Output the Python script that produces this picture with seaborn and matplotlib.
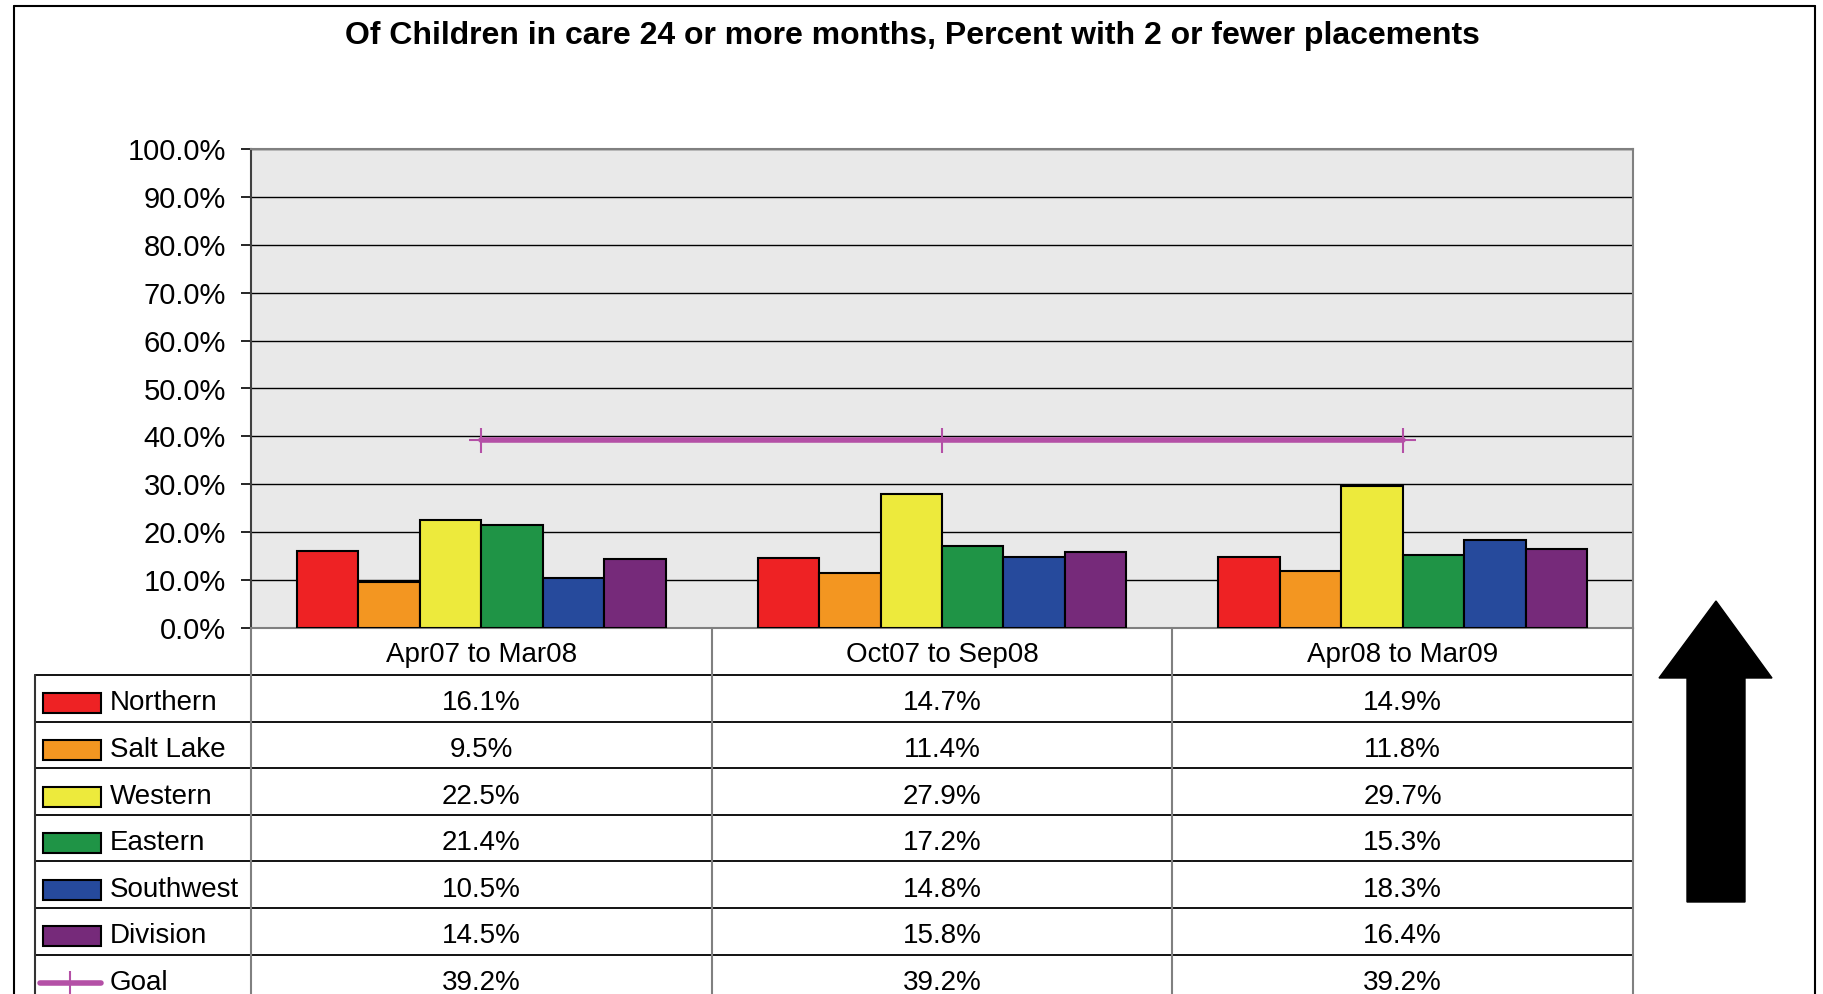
import numpy as np
import pandas as pd
import matplotlib
matplotlib.use("Agg")
import matplotlib.pyplot as plt
import seaborn as sns
from matplotlib.ticker import MultipleLocator, PercentFormatter
from matplotlib.transforms import blended_transform_factory
from matplotlib.patches import Rectangle, Polygon
from matplotlib.lines import Line2D

# data (percent)
periods = ["Apr07 to Mar08", "Oct07 to Sep08", "Apr08 to Mar09"]
regions = ["Northern", "Salt Lake", "Western", "Eastern", "Southwest", "Division"]
northern = [16.1, 14.7, 14.9]
salt_lake = [9.5, 11.4, 11.8]
western = [22.5, 27.9, 29.7]
eastern = [21.4, 17.2, 15.3]
southwest = [10.5, 14.8, 18.3]
division = [14.5, 15.8, 16.4]
goal = [39.2, 39.2, 39.2]

colors = ["#EE2224", "#F39621", "#EDEA3C", "#1F9446", "#264A9C", "#762A7A"]
goal_color = "#B450A6"
title = "Of Children in care 24 or more months, Percent with 2 or fewer placements"

series = [northern, salt_lake, western, eastern, southwest, division]
df = pd.DataFrame(
    [(p, r, vals[i]) for r, vals in zip(regions, series) for i, p in enumerate(periods)],
    columns=["period", "region", "value"],
)

sns.set_theme(style="white")
plt.rcParams['font.family'] = ['Liberation Sans', 'DejaVu Sans']

W, H = 1824, 994
fig = plt.figure(figsize=(W / 100, H / 100), dpi=100)
fig.patch.set_facecolor("white")


def fx(px):
    return px / W


def fy(px):
    return 1 - px / H


plot_l, plot_r, plot_t, plot_b = 251, 1633, 149, 628
ax = fig.add_axes([fx(plot_l), fy(plot_b), (plot_r - plot_l) / W, (plot_b - plot_t) / H])
ax.set_facecolor("#E9E9E9")

sns.barplot(data=df, x="period", y="value", hue="region", order=periods,
            hue_order=regions, palette=colors, saturation=1, width=0.8,
            edgecolor="black", linewidth=1.5, legend=False, ax=ax, zorder=3)

ax.plot(range(len(periods)), goal, color=goal_color, lw=4, marker="+",
        ms=18, mew=1.5, zorder=4)

ax.set_xlim(-0.5, len(periods) - 0.5)
ax.set_ylim(0, 100)
ax.yaxis.set_major_locator(MultipleLocator(10))
ax.yaxis.set_major_formatter(PercentFormatter(100, decimals=1))
ax.yaxis.grid(True, color="black", lw=1)
ax.set_axisbelow(True)
ax.set_xticks([])
ax.set_xlabel("")
ax.set_ylabel("")
ax.tick_params(axis="y", left=True, length=7, width=1.2, color="black",
               direction="out", labelsize=21, pad=11, labelcolor="black")
for s in ax.spines.values():
    s.set_color("#808080")
    s.set_linewidth(1.5)
ax.spines["left"].set_color("#404040")

fig.text(fx(912), fy(36), title, ha="center", va="center", fontsize=23,
         fontweight="bold", color="black")

# data table under the plot
trans = blended_transform_factory(ax.transData, fig.transFigure)
u = len(periods) / (plot_r - plot_l)  # data units per pixel
leg_left = -0.5 - (plot_l - 35) * u
head_bot = 675
row_h = 46.6
txt_dy = 5
row_labels = regions + ["Goal"]
row_values = series + [goal]

for i, p in enumerate(periods):
    fig.text(i, fy((plot_b + head_bot) / 2 + 4), p, transform=trans, ha="center",
             va="center", fontsize=20, color="black")

for r, (lab, vals) in enumerate(zip(row_labels, row_values)):
    top = head_bot + r * row_h
    cy = fy(top + row_h / 2)
    ty = fy(top + row_h / 2 + txt_dy)
    fig.add_artist(Line2D([leg_left, len(periods) - 0.5], [fy(top), fy(top)],
                          transform=trans, color="black", lw=1.3))
    for i, v in enumerate(vals):
        fig.text(i, ty, f"{v:.1f}%", transform=trans, ha="center", va="center",
                 fontsize=20, color="black")
    fig.text(leg_left + 75 * u, ty, lab, transform=trans, ha="left",
             va="center", fontsize=20, color="black")
    if lab == "Goal":
        fig.add_artist(Line2D([leg_left + 5 * u, leg_left + 66 * u], [ty, ty],
                              transform=trans, color=goal_color, lw=4))
        fig.add_artist(Line2D([leg_left + 35 * u], [ty], transform=trans,
                              color=goal_color, marker="+", ms=18, mew=1.5))
    else:
        fig.add_artist(Rectangle((leg_left + 8 * u, ty - 10 / H), 58 * u, 20 / H,
                                 transform=trans, facecolor=colors[r],
                                 edgecolor="black", lw=1.5))

for xv in [-0.5 + k for k in range(len(periods) + 1)]:
    fig.add_artist(Line2D([xv, xv], [fy(plot_b), 0], transform=trans,
                          color="#808080", lw=1.5))
fig.add_artist(Line2D([leg_left, leg_left], [fy(head_bot), 0], transform=trans,
                      color="#333333", lw=1.5))

# big arrow on the right
arrow_px = [(1659, 678), (1716, 601), (1772, 678), (1745, 678),
            (1745, 902), (1687, 902), (1687, 678)]
fig.add_artist(Polygon([(fx(x), fy(y)) for x, y in arrow_px], closed=True,
                       transform=fig.transFigure, facecolor="black",
                       edgecolor="black"))

# outer chart border
fig.add_artist(Line2D([fx(14), fx(14)], [fy(6), 0], transform=fig.transFigure,
                      color="black", lw=1.5))
fig.add_artist(Line2D([fx(1815), fx(1815)], [fy(6), 0], transform=fig.transFigure,
                      color="black", lw=1.5))
fig.add_artist(Line2D([fx(14), fx(1815)], [fy(6), fy(6)], transform=fig.transFigure,
                      color="black", lw=1.5))

fig.savefig("out.png", dpi=100)
